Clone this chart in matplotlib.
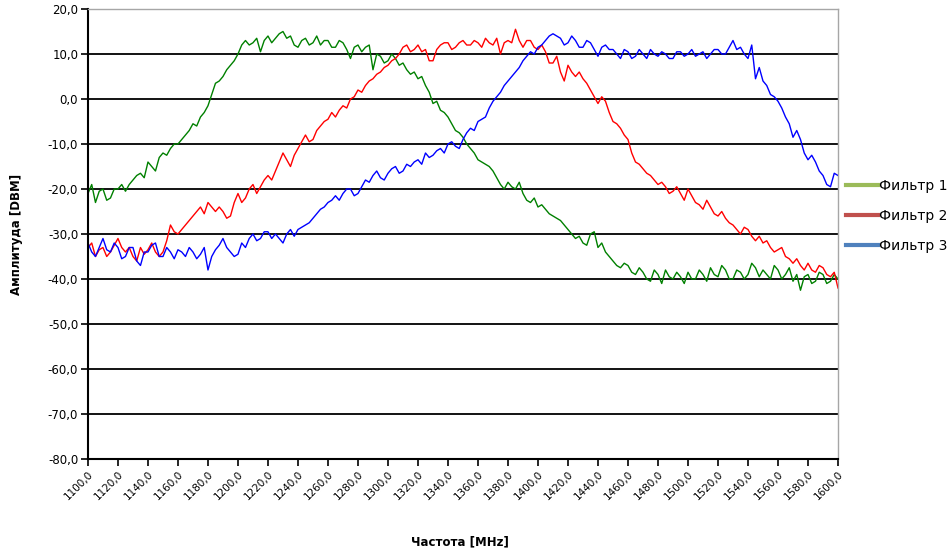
import numpy as np
import matplotlib
matplotlib.use("Agg")
import matplotlib.pyplot as plt
from matplotlib.lines import Line2D
from matplotlib.ticker import FuncFormatter, MultipleLocator

plt.rcParams.update({
    "font.family": ["DejaVu Sans"],
    "font.size": 8.5,
})

# ── Data (2.5 MHz step, one row = 25 MHz) ────────────────────────────────────
freq = np.linspace(1100, 1600, 201)

filter1 = [
    -21, -19, -23, -20.5, -20, -22.5, -22, -20, -20, -19,
    -20.5, -19, -18, -17, -16.5, -17.5, -14, -15, -16, -13,
    -12, -12.5, -11, -10, -10, -9, -8, -7, -5.5, -6,
    -4, -3, -1.5, 1, 3.5, 4, 5, 6.5, 7.5, 8.5,
    10, 12, 13, 12, 12.5, 13.5, 10.5, 13, 14, 12.5,
    13.5, 14.5, 15, 13.5, 14, 12, 11.5, 13, 13.5, 12,
    12.5, 14, 12, 13, 13, 11.5, 11.5, 13, 12.5, 11,
    9, 11.5, 12, 10.5, 11.5, 12, 6.5, 10, 9.5, 8,
    8.5, 10, 9, 7.5, 8, 6.5, 5.5, 6, 4.5, 5,
    3, 1.5, -1, -0.5, -2.5, -3, -4, -5.5, -7, -7.5,
    -8.5, -10, -11, -12, -13.5, -14, -14.5, -15, -16, -17.5,
    -19, -20, -18.5, -19.5, -20, -18.5, -21, -22.5, -23, -22,
    -24, -23.5, -24.5, -25.5, -26, -26.5, -27, -28, -29, -30,
    -31, -30.5, -32, -32.5, -30, -29.5, -33, -32, -34, -35,
    -36, -37, -37.5, -36.5, -37, -38.5, -39, -37.5, -38.5, -40,
    -40.5, -38, -39, -41, -38, -39.5, -40, -38.5, -39.5, -41,
    -38.5, -40, -40, -38, -39, -40.5, -37.5, -39, -39.5, -37,
    -38, -40, -40, -38, -38.5, -40, -39, -36.5, -37.5, -39.5,
    -38, -39, -40, -37, -38, -40, -39, -37.5, -40.5, -39,
    -42.5, -39.5, -39, -41, -40.5, -38.5, -39, -41, -40.5, -39,
    -40,
]

filter2 = [
    -33, -32, -35, -33.5, -33, -35, -34, -32.5, -31, -33,
    -34, -33, -35, -36, -33, -34.5, -33.5, -32, -34, -35,
    -34, -31.5, -28, -29.5, -30, -29, -28, -27, -26, -25,
    -24, -25.5, -23, -24, -25, -24, -25, -26.5, -26, -23,
    -21, -23, -22, -20, -19, -21, -19.5, -18, -17, -18,
    -16, -14, -12, -13.5, -15, -12.5, -11, -9.5, -8, -9.5,
    -9, -7, -6, -5, -4.5, -3, -4, -2.5, -1.5, -2,
    0, 0.5, 2, 1.5, 3, 4, 4.5, 5.5, 6, 7,
    7.5, 8.5, 9, 10, 11.5, 12, 10.5, 11, 12, 10.5,
    11, 8.5, 8.5, 11, 12, 12.5, 12.5, 11, 11.5, 12.5,
    13, 12, 12, 13, 12.5, 11.5, 13.5, 12.5, 12, 13.5,
    10, 12.5, 13, 12.5, 15.5, 13, 11.5, 13, 13, 11.5,
    11, 12, 10.5, 8, 8, 9.5, 6, 4, 7.5, 6,
    5, 6, 4.5, 3.5, 2, 0.5, -1, 0.5, -0.5, -3,
    -5, -5.5, -6.5, -8, -9, -12, -14, -14.5, -15.5, -16.5,
    -17, -18, -19, -18.5, -19.5, -21, -20.5, -19.5, -21, -22.5,
    -20, -21.5, -23, -23.5, -24.5, -22.5, -24, -25.5, -26, -25,
    -26.5, -27.5, -28, -29, -30, -28.5, -29, -30.5, -31.5, -30.5,
    -32, -31.5, -33, -34, -33.5, -33, -35, -35.5, -36.5, -35.5,
    -37, -38, -36.5, -38, -38.5, -37, -37.5, -39, -39.5, -38.5,
    -42,
]

filter3 = [
    -32, -34, -35, -33, -31, -33.5, -34, -32, -33, -35.5,
    -35, -33, -33, -36, -37, -34, -34, -32.5, -32, -35,
    -35, -33, -34, -35.5, -33.5, -34, -35, -33, -34, -35.5,
    -34.5, -33, -38, -35, -33.5, -32.5, -31, -33, -34, -35,
    -34.5, -32, -33, -31, -30, -31.5, -31, -29.5, -29.5, -31,
    -30, -31, -32, -30, -29, -30.5, -29, -28.5, -28, -27.5,
    -26.5, -25.5, -24.5, -24, -23, -22.5, -21.5, -22.5, -21, -20,
    -20, -21.5, -21, -19.5, -18, -18.5, -17, -16, -17.5, -18,
    -16.5, -15.5, -15, -16.5, -16, -14.5, -15, -14, -13.5, -14.5,
    -12, -13, -12.5, -11.5, -11, -12, -10, -9.5, -10.5, -11,
    -9, -7.5, -6.5, -7, -5, -4.5, -4, -2, -0.5, 0.5,
    1.5, 3, 4, 5, 6, 7, 8.5, 9.5, 10.5, 10,
    11.5, 12, 13, 14, 14.5, 14, 13.5, 12, 12.5, 14,
    13, 11.5, 11.5, 13, 12.5, 11, 9.5, 11.5, 12, 11,
    11, 10, 9, 11, 10.5, 9, 9.5, 11, 10, 9,
    11, 10, 9.5, 10.5, 10, 9, 9, 10.5, 10.5, 9.5,
    10, 11, 9.5, 10, 10.5, 9, 10, 11, 11, 10,
    10, 11.5, 13, 11, 11.5, 10, 9, 12, 4.5, 7,
    4, 3, 1, 0.5, -0.5, -2, -4, -5.5, -8.5, -7,
    -9, -12, -13.5, -12.5, -14, -16, -17, -19, -19.5, -16.5,
    -17,
]

series_names = ["Фильтр 1", "Фильтр 2", "Фильтр 3"]
line_colors = ["#008000", "#ff0000", "#0000ff"]
legend_colors = ["#9bbb59", "#c0504d", "#4f81bd"]

# ── Plot ─────────────────────────────────────────────────────────────────────
fig = plt.figure(figsize=(9.5, 5.53), dpi=100)
ax = fig.add_axes([0.0926, 0.17, 0.7895, 0.8137])

for vals, col in zip([filter1, filter2, filter3], line_colors):
    ax.plot(freq, vals, color=col, lw=1.0)

ax.set_xlim(1100, 1600)
ax.set_ylim(-80, 20)
ax.xaxis.set_major_locator(MultipleLocator(20))
ax.yaxis.set_major_locator(MultipleLocator(10))
comma = FuncFormatter(lambda v, p: f"{v:.1f}".replace(".", ","))
ax.xaxis.set_major_formatter(comma)
ax.yaxis.set_major_formatter(comma)

ax.grid(axis="y", color="black", lw=1.3)
ax.set_axisbelow(True)
ax.tick_params(direction="out", length=5, width=1.2, colors="black", pad=2)
ax.tick_params(axis="x", labelsize=7.5)
plt.setp(ax.get_xticklabels(), rotation=45, ha="right", rotation_mode="anchor")
for s in ["top", "right"]:
    ax.spines[s].set_color("#a6a6a6")
    ax.spines[s].set_linewidth(1.0)
for s in ["left", "bottom"]:
    ax.spines[s].set_color("black")
    ax.spines[s].set_linewidth(1.5)

ax.set_xlabel("Частота [MHz]", fontweight="bold")
ax.set_ylabel("Амплитуда [DBM]", fontweight="bold")
ax.xaxis.set_label_coords(0.496, -0.17)
ax.yaxis.set_label_coords(-0.087, 0.5)

handles = [Line2D([], [], color=c, lw=3) for c in legend_colors]
fig.legend(handles, series_names, loc="center left", bbox_to_anchor=(0.877, 0.61),
           frameon=False, handlelength=2.3, handletextpad=0.1, labelspacing=1.15,
           fontsize=10)

fig.savefig("out.png", dpi=100)
